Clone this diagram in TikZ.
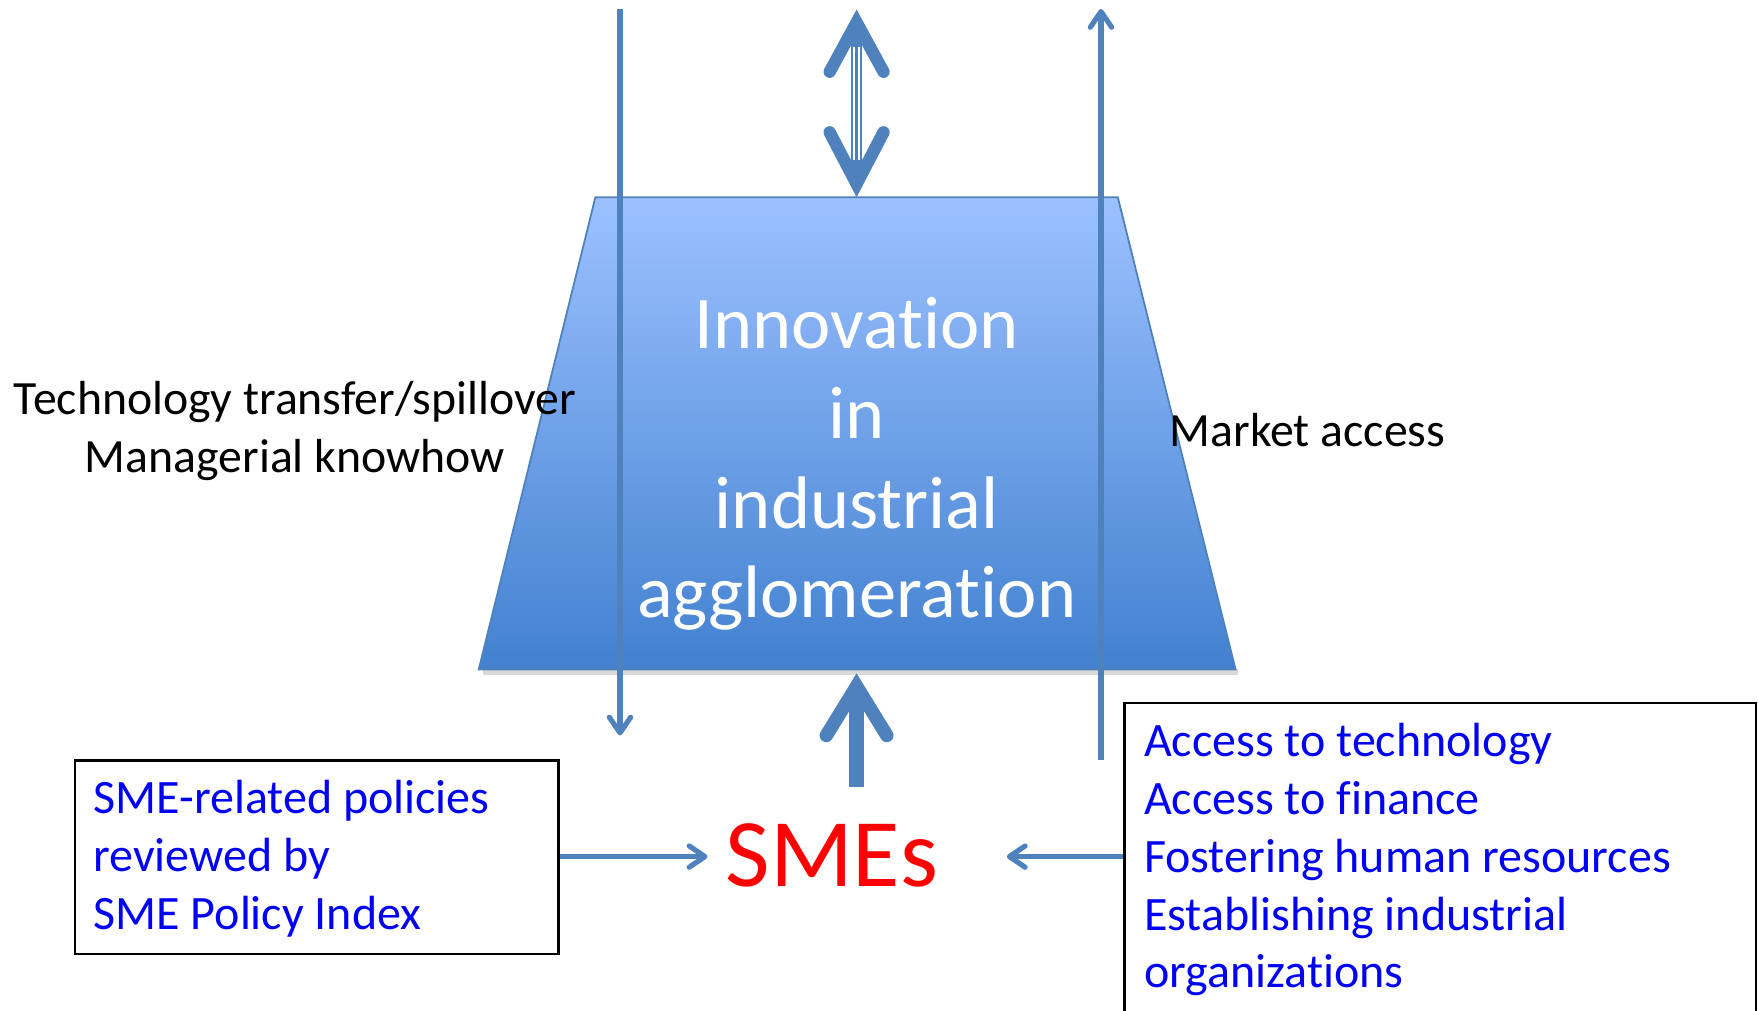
\documentclass[tikz,border=0pt]{standalone}
\usepackage{fontspec}
\setmainfont{Carlito}[Ligatures=NoCommon]
\usepackage{xcolor}
\usetikzlibrary{arrows.meta,calc,positioning}

\definecolor{flowblue}{RGB}{79,129,189}
\definecolor{trapTop}{RGB}{156,193,255}
\definecolor{trapBot}{RGB}{66,129,208}
\definecolor{listblue}{RGB}{0,0,245}
\definecolor{smered}{RGB}{255,0,0}

\tikzset{
  thinflow/.style={draw=flowblue, line width=2.3pt, -{Straight Barb[length=7pt,width=9.5pt,round]}},
  thickflow/.style={draw=flowblue, line width=7pt},
  chevron/.style={draw=flowblue, line width=6pt, line cap=round, line join=miter},
  listbox/.style={draw=black, line width=1.1pt, anchor=north west, inner sep=0pt},
  listtext/.style={text=listblue, align=left, anchor=base west, inner sep=0pt,
    font=\fontsize{21.4}{25.75}\selectfont},
  sidetext/.style={inner sep=0pt, font=\fontsize{21.3}{25.5}\selectfont},
}

\begin{document}
\begin{tikzpicture}[x=0.5pt,y=-0.5pt]
  \useasboundingbox (0,0) rectangle (1568,901);

  \coordinate (tl) at (531,176);
  \coordinate (tr) at (997,176);
  \coordinate (br) at (1102,597);
  \coordinate (bl) at (427,597);
  \coordinate (trapN) at ($(tl)!0.5!(tr)$);
  \coordinate (trapS) at (764,612);

  \fill[black,opacity=0.15] ($(bl)+(4,0)$) -- ($(br)+(2,0)$) -- ($(br)+(2,5)$) -- ($(bl)+(4,5)$) -- cycle;
  \shade[top color=trapTop, bottom color=trapBot, draw=flowblue, line width=0.8pt]
    (tl) -- (tr) -- (br) -- (bl) -- cycle;

  \node[text=white, align=center, anchor=base, inner sep=0pt,
    font=\fontsize{33.2}{40}\selectfont] (agglo) at (764,551)
    {Innovation\\in\\industrial\\agglomeration};

  \coordinate (techTop) at (553,8);
  \coordinate (techEnd) at (553,656);
  \coordinate (mktBase) at (982,678);
  \coordinate (mktTop) at (982,8);
  \draw[thinflow] (techTop) -- (techEnd);
  \draw[thinflow] (mktBase) -- (mktTop);

  \node[sidetext, align=center, anchor=base] (techLbl) at (263,421)
    {Technology transfer/spillover\\Managerial knowhow};
  \node[sidetext, anchor=base west] (mktLbl) at (1043,398) {Market access};

  \coordinate (globalTop) at (764,20);
  \draw[draw=flowblue, line width=5pt] (globalTop) -- ($(trapN)+(0,-14)$);
  \draw[white, line width=0.7pt] (761.8,42) -- (761.8,143);
  \draw[white, line width=0.7pt] (766.2,42) -- (766.2,143);
  \draw[chevron, line width=5.5pt] ($(globalTop)+(-24,44)$) -- (globalTop) -- ($(globalTop)+(24,44)$);
  \draw[chevron, line width=5.5pt] ($(trapN)+(-24,-58)$) -- ($(trapN)+(0,-12)$) -- ($(trapN)+(24,-58)$);

  \node[text=smered, anchor=base, inner sep=0pt, font=\fontsize{43.2}{50}\selectfont]
    (sme) at (742,791) {SMEs};
  \coordinate (smeTop) at (764,702);
  \draw[thickflow] (smeTop) -- (trapS);
  \draw[chevron] ($(trapS)+(-27,44)$) -- (trapS) -- ($(trapS)+(27,44)$);

  \node[listbox, minimum width=215.5pt, minimum height=86.5pt] (policy) at (66,677) {};
  \node[listtext] (policyTxt) at (83,829)
    {SME-related policies\\reviewed by\\SME Policy Index};
  \node[listbox, minimum width=281.5pt, minimum height=150pt] (support) at (1002,626) {};
  \node[listtext] (supportTxt) at (1020,881)
    {Access to technology\\Access to finance\\Fostering human resources\\Establishing industrial\\organizations};

  \coordinate (smeIn1) at (631,764);
  \coordinate (smeIn2) at (898,764);
  \draw[thinflow] (policy.east |- smeIn1) -- (smeIn1);
  \draw[thinflow] (support.west |- smeIn2) -- (smeIn2);
\end{tikzpicture}
\end{document}
